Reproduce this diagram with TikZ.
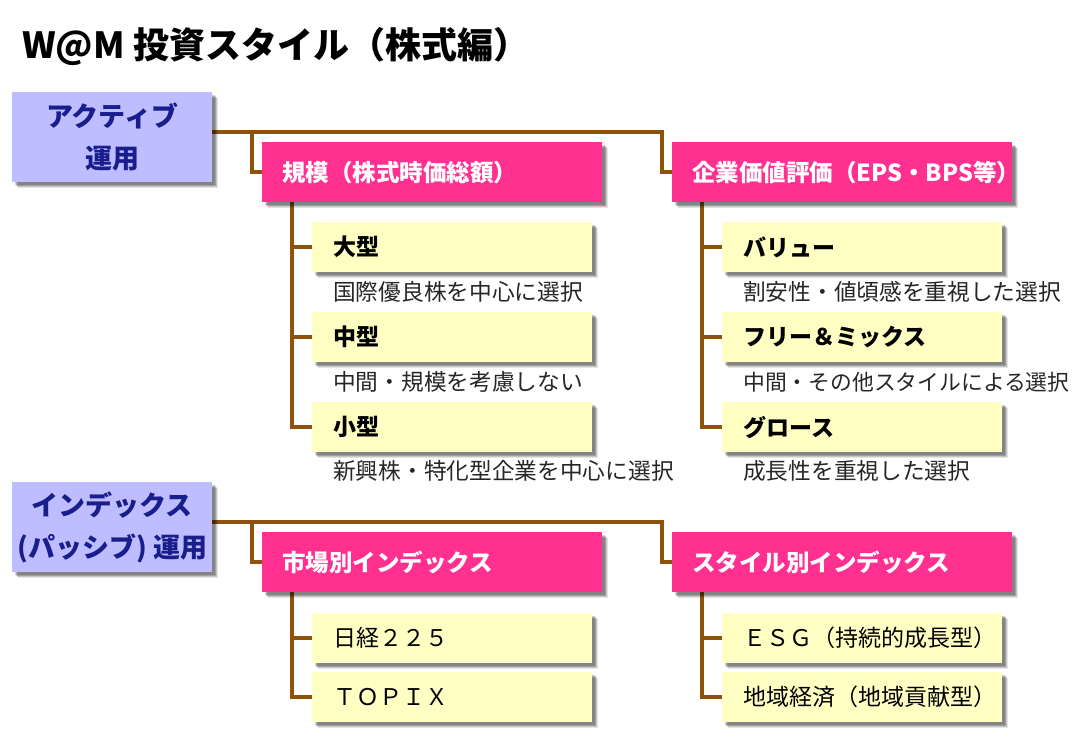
\documentclass[tikz,border=0pt]{standalone}
\usepackage{fontspec}
\setmainfont{Noto Sans CJK JP}
\usetikzlibrary{shadows}
\definecolor{bluebox}{RGB}{189,189,255}
\definecolor{navy}{RGB}{26,30,140}
\definecolor{pinkbox}{RGB}{255,48,144}
\definecolor{yellowbox}{RGB}{255,255,196}
\definecolor{brownline}{RGB}{143,82,10}
\pgfdeclarelayer{bg}\pgfsetlayers{bg,main}
\begin{document}
\begin{tikzpicture}[x=1pt,y=-1pt,
  shad/.style={
    drop shadow={shadow xshift=5.5pt,shadow yshift=-5.5pt,opacity=0.10,fill=black},
    drop shadow={shadow xshift=4.5pt,shadow yshift=-4.5pt,opacity=0.14,fill=black},
    drop shadow={shadow xshift=3.5pt,shadow yshift=-3.5pt,opacity=0.18,fill=black},
    drop shadow={shadow xshift=2.5pt,shadow yshift=-2.5pt,opacity=0.18,fill=black}},
  titletext/.style={anchor=west,inner sep=0pt,font=\fontsize{36}{40}\selectfont\bfseries},
  topbox/.style={shad,fill=bluebox,anchor=north west,minimum width=200pt,minimum height=90pt,inner sep=0pt,align=center,text=navy,font=\fontsize{27}{42}\selectfont\bfseries},
  catbox/.style={shad,fill=pinkbox,anchor=north west,minimum height=60pt,inner xsep=20pt,inner ysep=0pt,text width=300pt,align=left,text=white,font=\fontsize{23.5}{28}\selectfont\bfseries},
  itembox/.style={shad,fill=yellowbox,anchor=north west,minimum height=50pt,inner xsep=21pt,inner ysep=0pt,text width=238pt,align=left,text=black,font=\fontsize{23}{28}\selectfont\bfseries},
  itemplain/.style={itembox,font=\fontsize{23}{28}\selectfont},
  desc/.style={anchor=west,inner sep=0pt,text=black!85,font=\fontsize{22.7}{26}\selectfont},
  descnarrow/.style={desc,font=\fontsize{21.8}{26}\selectfont},
  conn/.style={draw=brownline,line width=4pt}
]
\useasboundingbox (0,0) rectangle (1080,740);

\node[titletext] (title) at (22,47) {W@M 投資スタイル（株式編）};

% ---------- Active ----------
\node[topbox] (b1) at (12,92) {アクティブ\\運用};
\node[catbox] (p1) at (262,142) {規模（株式時価総額）};
\node[catbox] (p2) at (672,142) {企業価値評価（EPS・BPS等）};

\node[itembox] (y1) at (312,222) {大型};
\node[desc] (d1) at (333,292) {国際優良株を中心に選択};
\node[itembox] (y2) at (312,312) {中型};
\node[desc] (d2) at (333,382) {中間・規模を考慮しない};
\node[itembox] (y3) at (312,402) {小型};
\node[desc] (d3) at (333,471) {新興株・特化型企業を中心に選択};

\node[itembox] (z1) at (722,222) {バリュー};
\node[desc] (e1) at (743,292) {割安性・値頃感を重視した選択};
\node[itembox] (z2) at (722,312) {フリー＆ミックス};
\node[descnarrow] (e2) at (743,382) {中間・その他スタイルによる選択};
\node[itembox] (z3) at (722,402) {グロース};
\node[desc] (e3) at (743,471) {成長性を重視した選択};

% ---------- Index ----------
\node[topbox] (b2) at (12,482) {インデックス\\(パッシブ) 運用};
\node[catbox] (p3) at (262,532) {市場別インデックス};
\node[catbox] (p4) at (672,532) {スタイル別インデックス};

\node[itemplain] (w1) at (312,613) {日経２２５};
\node[itemplain] (w2) at (312,672) {ＴＯＰＩＸ};
\node[itemplain] (v1) at (722,613) {ＥＳＧ（持続的成長型）};
\node[itemplain] (v2) at (722,672) {地域経済（地域貢献型）};

% ---------- connectors ----------
\coordinate (j1) at ([yshift=5pt]b1.east);
\coordinate (k1) at ([xshift=-10pt]p1.west);
\coordinate (k2) at ([xshift=-10pt]p2.west);
\coordinate (t1) at ([xshift=30pt]p1.south west);
\coordinate (t2) at ([xshift=30pt]p2.south west);
\coordinate (j2) at ([yshift=5pt]b2.east);
\coordinate (k3) at ([xshift=-10pt]p3.west);
\coordinate (k4) at ([xshift=-10pt]p4.west);
\coordinate (t3) at ([xshift=30pt]p3.south west);
\coordinate (t4) at ([xshift=30pt]p4.south west);

\begin{pgfonlayer}{bg}
\draw[conn] (j1) -| (k2) -- (p2.west);
\draw[conn] (k1 |- j1) -- (k1) -- (p1.west);
\draw[conn] (t1) |- (y1.west);
\draw[conn] (t1) |- (y2.west);
\draw[conn] (t1) |- (y3.west);
\draw[conn] (t2) |- (z1.west);
\draw[conn] (t2) |- (z2.west);
\draw[conn] (t2) |- (z3.west);

\draw[conn] (j2) -| (k4) -- (p4.west);
\draw[conn] (k3 |- j2) -- (k3) -- (p3.west);
\draw[conn] (t3) |- (w1.west);
\draw[conn] (t3) |- (w2.west);
\draw[conn] (t4) |- (v1.west);
\draw[conn] (t4) |- (v2.west);
\end{pgfonlayer}
\end{tikzpicture}
\end{document}
